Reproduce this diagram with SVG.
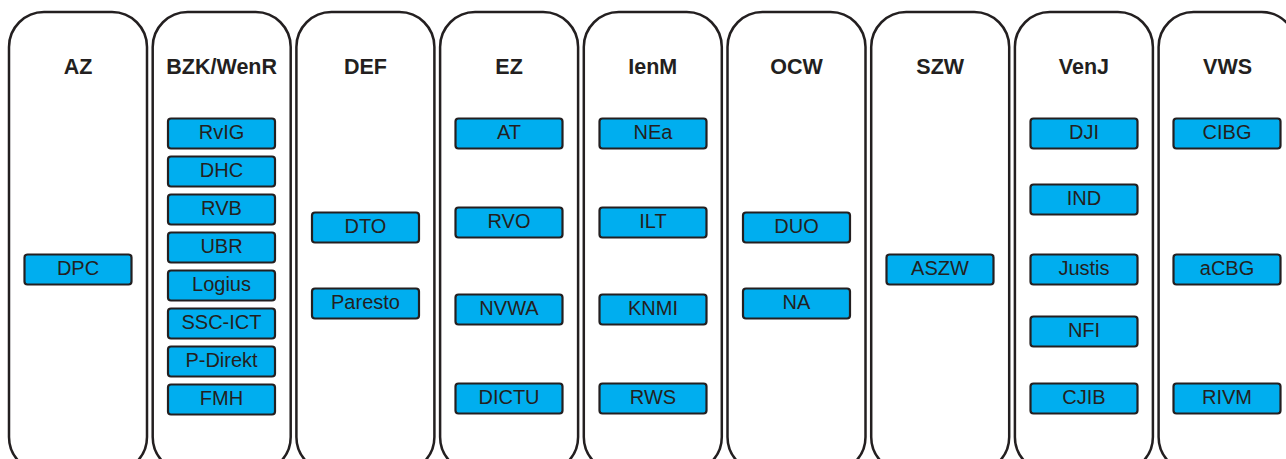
<svg xmlns="http://www.w3.org/2000/svg" width="1286" height="459" viewBox="0 0 1286 459">
<style>
.col{fill:#fff;stroke:#231f20;stroke-width:2.5}
.hd{font-family:"Liberation Sans",Arial,sans-serif;font-weight:bold;font-size:21.5px;fill:#231f20;text-anchor:middle}
.bx{fill:#00aeef;stroke:#231f20;stroke-width:2.2}
.bt{font-family:"Liberation Sans",Arial,sans-serif;font-size:20px;fill:#231f20;text-anchor:middle}
</style>
<rect width="1286" height="459" fill="#fff"/>
<g id="connectors"/>
<g id="col-AZ">
<rect class="col" x="9" y="12" width="138" height="460" rx="35"/>
<text class="hd" x="78" y="74">AZ</text>
<g id="DPC"><rect class="bx" x="24.5" y="254.5" width="107" height="30" rx="3"/><text class="bt" x="78" y="275">DPC</text></g>
</g>
<g id="col-BZK">
<rect class="col" x="152.7" y="12" width="138" height="460" rx="35"/>
<text class="hd" x="221.7" y="74">BZK/WenR</text>
<g id="RvIG"><rect class="bx" x="168" y="118.5" width="107" height="30" rx="3"/><text class="bt" x="221.5" y="139">RvIG</text></g>
<g id="DHC"><rect class="bx" x="168" y="156.5" width="107" height="30" rx="3"/><text class="bt" x="221.5" y="177">DHC</text></g>
<g id="RVB"><rect class="bx" x="168" y="194.5" width="107" height="30" rx="3"/><text class="bt" x="221.5" y="215">RVB</text></g>
<g id="UBR"><rect class="bx" x="168" y="232.5" width="107" height="30" rx="3"/><text class="bt" x="221.5" y="253">UBR</text></g>
<g id="Logius"><rect class="bx" x="168" y="270.5" width="107" height="30" rx="3"/><text class="bt" x="221.5" y="291">Logius</text></g>
<g id="SSC-ICT"><rect class="bx" x="168" y="308.5" width="107" height="30" rx="3"/><text class="bt" x="221.5" y="329">SSC-ICT</text></g>
<g id="P-Direkt"><rect class="bx" x="168" y="346.5" width="107" height="30" rx="3"/><text class="bt" x="221.5" y="367">P-Direkt</text></g>
<g id="FMH"><rect class="bx" x="168" y="384.5" width="107" height="30" rx="3"/><text class="bt" x="221.5" y="405">FMH</text></g>
</g>
<g id="col-DEF">
<rect class="col" x="296.4" y="12" width="138" height="460" rx="35"/>
<text class="hd" x="365.4" y="74">DEF</text>
<g id="DTO"><rect class="bx" x="312" y="212.5" width="107" height="30" rx="3"/><text class="bt" x="365.5" y="233">DTO</text></g>
<g id="Paresto"><rect class="bx" x="312" y="288.5" width="107" height="30" rx="3"/><text class="bt" x="365.5" y="309">Paresto</text></g>
</g>
<g id="col-EZ">
<rect class="col" x="440.1" y="12" width="138" height="460" rx="35"/>
<text class="hd" x="509.1" y="74">EZ</text>
<g id="AT"><rect class="bx" x="455.5" y="118.5" width="107" height="30" rx="3"/><text class="bt" x="509" y="139">AT</text></g>
<g id="RVO"><rect class="bx" x="455.5" y="207.5" width="107" height="30" rx="3"/><text class="bt" x="509" y="228">RVO</text></g>
<g id="NVWA"><rect class="bx" x="455.5" y="294.5" width="107" height="30" rx="3"/><text class="bt" x="509" y="315">NVWA</text></g>
<g id="DICTU"><rect class="bx" x="455.5" y="383.5" width="107" height="30" rx="3"/><text class="bt" x="509" y="404">DICTU</text></g>
</g>
<g id="col-IenM">
<rect class="col" x="583.8" y="12" width="138" height="460" rx="35"/>
<text class="hd" x="652.8" y="74">IenM</text>
<g id="NEa"><rect class="bx" x="599.5" y="118.5" width="107" height="30" rx="3"/><text class="bt" x="653" y="139">NEa</text></g>
<g id="ILT"><rect class="bx" x="599.5" y="207.5" width="107" height="30" rx="3"/><text class="bt" x="653" y="228">ILT</text></g>
<g id="KNMI"><rect class="bx" x="599.5" y="294.5" width="107" height="30" rx="3"/><text class="bt" x="653" y="315">KNMI</text></g>
<g id="RWS"><rect class="bx" x="599.5" y="383.5" width="107" height="30" rx="3"/><text class="bt" x="653" y="404">RWS</text></g>
</g>
<g id="col-OCW">
<rect class="col" x="727.5" y="12" width="138" height="460" rx="35"/>
<text class="hd" x="796.5" y="74">OCW</text>
<g id="DUO"><rect class="bx" x="743" y="212.5" width="107" height="30" rx="3"/><text class="bt" x="796.5" y="233">DUO</text></g>
<g id="NA"><rect class="bx" x="743" y="288.5" width="107" height="30" rx="3"/><text class="bt" x="796.5" y="309">NA</text></g>
</g>
<g id="col-SZW">
<rect class="col" x="871.2" y="12" width="138" height="460" rx="35"/>
<text class="hd" x="940.2" y="74">SZW</text>
<g id="ASZW"><rect class="bx" x="886.5" y="254.5" width="107" height="30" rx="3"/><text class="bt" x="940" y="275">ASZW</text></g>
</g>
<g id="col-VenJ">
<rect class="col" x="1014.9" y="12" width="138" height="460" rx="35"/>
<text class="hd" x="1083.9" y="74">VenJ</text>
<g id="DJI"><rect class="bx" x="1030.5" y="118.5" width="107" height="30" rx="3"/><text class="bt" x="1084" y="139">DJI</text></g>
<g id="IND"><rect class="bx" x="1030.5" y="184.5" width="107" height="30" rx="3"/><text class="bt" x="1084" y="205">IND</text></g>
<g id="Justis"><rect class="bx" x="1030.5" y="254.5" width="107" height="30" rx="3"/><text class="bt" x="1084" y="275">Justis</text></g>
<g id="NFI"><rect class="bx" x="1030.5" y="316.5" width="107" height="30" rx="3"/><text class="bt" x="1084" y="337">NFI</text></g>
<g id="CJIB"><rect class="bx" x="1030.5" y="383.5" width="107" height="30" rx="3"/><text class="bt" x="1084" y="404">CJIB</text></g>
</g>
<g id="col-VWS">
<rect class="col" x="1158.6" y="12" width="138" height="460" rx="35"/>
<text class="hd" x="1227.6" y="74">VWS</text>
<g id="CIBG"><rect class="bx" x="1173.5" y="118.5" width="107" height="30" rx="3"/><text class="bt" x="1227" y="139">CIBG</text></g>
<g id="aCBG"><rect class="bx" x="1173.5" y="254.5" width="107" height="30" rx="3"/><text class="bt" x="1227" y="275">aCBG</text></g>
<g id="RIVM"><rect class="bx" x="1173.5" y="383.5" width="107" height="30" rx="3"/><text class="bt" x="1227" y="404">RIVM</text></g>
</g>
</svg>
